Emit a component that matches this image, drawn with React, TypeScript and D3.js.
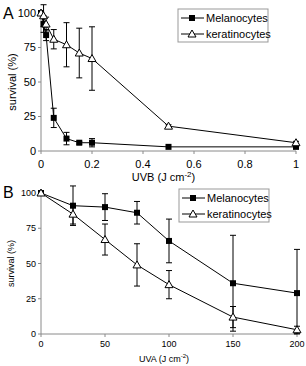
import * as d3 from 'd3'

// Panel A: UVB dose (J cm-2)
const uvbDose = [0, 0.01, 0.02, 0.05, 0.1, 0.15, 0.2, 0.5, 1]
const uvbMelano = [100, 92, 84, 24, 9, 6, 6, 3, 3]
const uvbMelanoErr = [0, 6, 4, 7, 4.5, 1, 3, 0, 0]
const uvbKerat = [100, 98, 92, 81, 77, 71, 67, 18, 6]
const uvbKeratErr = [0, 8, 5, 7, 16, 18, 23, 1, 1]
const uvbTicks = [0, 0.2, 0.4, 0.6, 0.8, 1]

// Panel B: UVA dose (J cm-2)
const uvaDose = [0, 25, 50, 75, 100, 150, 200]
const uvaMelano = [100, 91, 90, 86, 66, 36, 29]
const uvaMelanoErr = [0, 14, 9.5, 8, 15.5, 34, 31]
const uvaKerat = [100, 85, 67, 49, 35, 12, 3]
const uvaKeratErr = [0, 7, 11, 15, 10, 7.5, 2.5]
const uvaTicks = [0, 50, 100, 150, 200]

const surviveTicks = [0, 25, 50, 75, 100]
const seriesNames = ['Melanocytes', 'keratinocytes']

const FONT = '"Liberation Sans", Arial, sans-serif'
const AXIS = '#8a8a8a'

type PanelProps = {
  letter: string
  doses: number[]
  melano: number[]
  melanoErr: number[]
  kerat: number[]
  keratErr: number[]
  xDomain: [number, number]
  xTicks: number[]
  xRange: [number, number]
  yRange: [number, number]
  top: number
  tickSize: number
  tickGap: number
  titleGap: number
  axisLabel: string
  yLabelX: number
  legend: { x: number; y: number }
}

function Square({ x, y }: { x: number; y: number }) {
  return <rect x={x - 3} y={y - 3} width={6} height={6} fill="#000" />
}

function Triangle({ x, y }: { x: number; y: number }) {
  return (
    <path
      d={`M${x},${y - 4}L${x + 4},${y + 3}L${x - 4},${y + 3}Z`}
      fill="#fff"
      stroke="#000"
      strokeWidth={1}
    />
  )
}

function Panel(p: PanelProps) {
  const x = d3.scaleLinear().domain(p.xDomain).range(p.xRange)
  const y = d3.scaleLinear().domain([0, 100]).range(p.yRange)
  const line = d3.line<number>()
    .x((_, i) => x(p.doses[i]))
    .y(d => y(d))

  const errBars = (vals: number[], errs: number[], key: string) =>
    vals.map((v, i) => {
      if (!errs[i]) return null
      const cx = x(p.doses[i])
      const y1 = y(Math.max(0, v - errs[i]))
      const y2 = y(v + errs[i])
      return (
        <g key={key + i} stroke="#000" strokeWidth={1}>
          <line x1={cx} x2={cx} y1={y1} y2={y2} />
          <line x1={cx - 3} x2={cx + 3} y1={y1} y2={y1} />
          <line x1={cx - 3} x2={cx + 3} y1={y2} y2={y2} />
        </g>
      )
    })

  const [x0, x1] = p.xRange
  const [yb, yt] = p.yRange
  const lx = p.legend.x
  const ly = p.legend.y

  return (
    <g>
      <text x={3} y={p.top} fontSize={16} fontFamily={FONT}>{p.letter}</text>

      {/* axes */}
      <line x1={x0} x2={x0} y1={yb} y2={yt} stroke={AXIS} />
      <line x1={x0} x2={x1} y1={yb} y2={yb} stroke={AXIS} />
      {surviveTicks.map(t => (
        <g key={'y' + t}>
          <line x1={x0 - 3} x2={x0} y1={y(t)} y2={y(t)} stroke={AXIS} />
          <text x={x0 - 5} y={y(t)} dy="0.35em" textAnchor="end"
            fontSize={p.tickSize} fontFamily={FONT}>{t}</text>
        </g>
      ))}
      {p.xTicks.map(t => (
        <g key={'x' + t}>
          <line x1={x(t)} x2={x(t)} y1={yb} y2={yb + 3} stroke={AXIS} />
          <text x={x(t)} y={yb + p.tickGap} textAnchor="middle"
            fontSize={p.tickSize} fontFamily={FONT}>{t}</text>
        </g>
      ))}
      <text
        transform={`translate(${p.yLabelX},${(yb + yt) / 2}) rotate(-90)`}
        textAnchor="middle" fontSize={p.tickSize} fontFamily={FONT}
      >survival (%)</text>
      <text x={(x0 + x1) / 2 - 5} y={yb + p.titleGap} textAnchor="middle"
        fontSize={p.tickSize} fontFamily={FONT}>
        {p.axisLabel} (J cm<tspan dy={-4} fontSize={p.tickSize - 3}>-2</tspan><tspan dy={4}>)</tspan>
      </text>

      {/* data */}
      {errBars(p.melano, p.melanoErr, 'm')}
      {errBars(p.kerat, p.keratErr, 'k')}
      <path d={line(p.melano) ?? ''} fill="none" stroke="#000" />
      <path d={line(p.kerat) ?? ''} fill="none" stroke="#000" />
      {p.melano.map((v, i) => <Square key={'ms' + i} x={x(p.doses[i])} y={y(v)} />)}
      {p.kerat.map((v, i) => <Triangle key={'kt' + i} x={x(p.doses[i])} y={y(v)} />)}

      {/* legend */}
      <rect x={lx} y={ly} width={90} height={33} fill="#fff" stroke="#999" />
      {seriesNames.map((name, i) => {
        const yy = ly + 9 + i * 16
        return (
          <g key={name}>
            <line x1={lx + 3} x2={lx + 26} y1={yy} y2={yy} stroke="#000" />
            {i === 0 ? <Square x={lx + 14} y={yy} /> : <Triangle x={lx + 14} y={yy} />}
            <text x={lx + 28} y={yy} dy="0.35em" fontSize={11} fontFamily={FONT}>{name}</text>
          </g>
        )
      })}
    </g>
  )
}

export default function App() {
  return (
    <svg width={306} height={366} style={{ position: 'absolute', left: 0, top: 0, background: '#fff' }}>
      <Panel
        letter="A"
        doses={uvbDose}
        melano={uvbMelano}
        melanoErr={uvbMelanoErr}
        kerat={uvbKerat}
        keratErr={uvbKeratErr}
        xDomain={[0, 1]}
        xTicks={uvbTicks}
        xRange={[41, 296]}
        yRange={[151, 13]}
        top={19}
        tickSize={11}
        tickGap={17}
        titleGap={30}
        axisLabel="UVB"
        yLabelX={16}
        legend={{ x: 178, y: 9 }}
      />
      <Panel
        letter="B"
        doses={uvaDose}
        melano={uvaMelano}
        melanoErr={uvaMelanoErr}
        kerat={uvaKerat}
        keratErr={uvaKeratErr}
        xDomain={[0, 200]}
        xTicks={uvaTicks}
        xRange={[41, 297]}
        yRange={[334, 193]}
        top={198}
        tickSize={9}
        tickGap={13}
        titleGap={28}
        axisLabel="UVA"
        yLabelX={14}
        legend={{ x: 179, y: 189 }}
      />
    </svg>
  )
}
